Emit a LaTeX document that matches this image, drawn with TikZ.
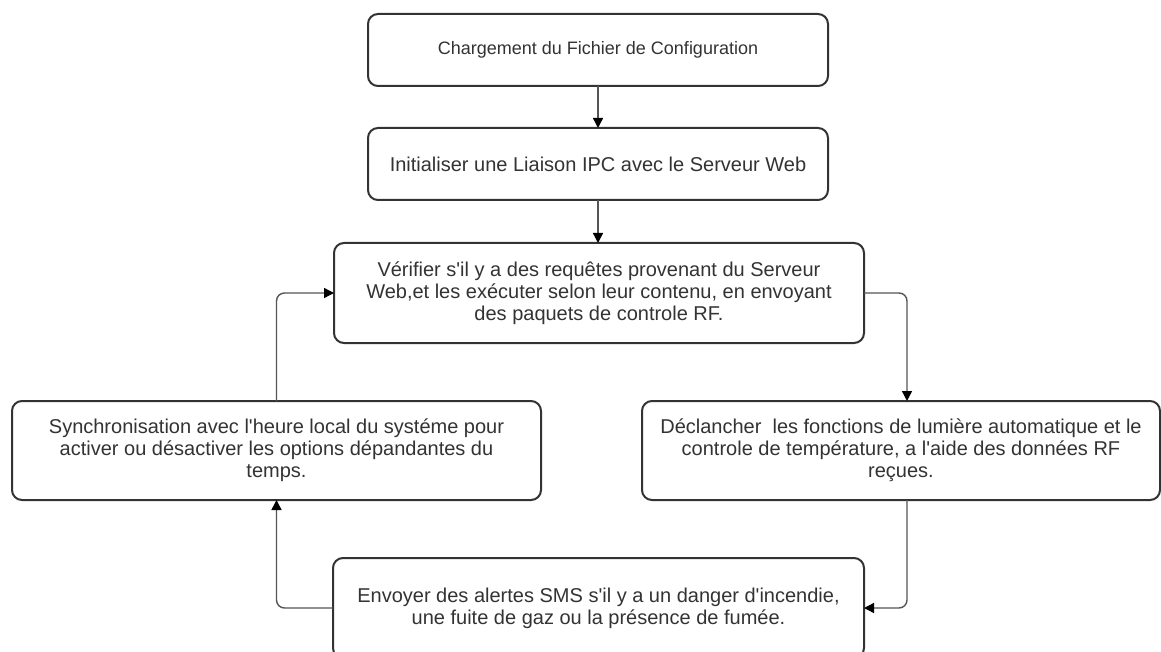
\documentclass[tikz,border=0pt]{standalone}
\usepackage{fontspec}
\setmainfont{Liberation Sans}[Ligatures=TeXOff]
\usetikzlibrary{arrows.meta}
\definecolor{boxline}{HTML}{333333}
\definecolor{txt}{HTML}{333333}
\definecolor{wire}{HTML}{555555}
\begin{document}
\begin{tikzpicture}[x=1pt,y=-1pt,
  stepbox/.style={draw=boxline, line width=2pt, rounded corners=10pt, fill=white,
    text=txt, align=center, inner sep=0pt, outer sep=0pt,
    font=\fontsize{20}{21.8}\selectfont},
  flow/.style={draw=wire, line width=1.4pt, rounded corners=8pt,
    -{Triangle[length=10pt,width=10pt,color=black]}}]
\useasboundingbox (0,0) rectangle (1161,652);
\clip (0,0) rectangle (1161,652);
\fill[white] (0,0) rectangle (1161,652);

% process steps
\node[stepbox, minimum width=460pt, minimum height=72pt, font=\fontsize{18}{21}\selectfont]
  (b1) at (598,50) {Chargement du Fichier de Configuration};
\node[stepbox, minimum width=460pt, minimum height=72pt]
  (b2) at (598,164) {Initialiser une Liaison IPC avec le Serveur Web};
\node[stepbox, minimum width=530pt, minimum height=100pt]
  (b3) at (599,293) {Vérifier s'il y a des requêtes provenant du Serveur\\Web,et les exécuter selon leur contenu, en envoyant\\des paquets de controle RF.};
\node[stepbox, minimum width=529pt, minimum height=99pt]
  (b4) at (276.5,450.5) {Synchronisation avec l'heure local du systéme pour\\activer ou désactiver les options dépandantes du\\temps.};
\node[stepbox, minimum width=518pt, minimum height=99pt]
  (b6) at (901,450.5) {Déclancher\ \ les fonctions de lumière automatique et le\\controle de température, a l'aide des données RF\\reçues.};
\node[stepbox, minimum width=531pt, minimum height=100pt]
  (b5) at (598.5,608) {Envoyer des alertes SMS s'il y a un danger d'incendie,\\une fuite de gaz ou la présence de fumée.};

% connectors
\coordinate (rx) at (907,0);
\draw[flow] (b1.south) -- (b2.north);
\draw[flow] (b2.south) -- (b2.south |- b3.north);
\draw[flow] (b3.east) -| (rx |- b6.north);
\draw[flow] (rx |- b6.south) |- (b5.east);
\draw[flow] (b5.west) -| (b4.south);
\draw[flow] (b4.north) |- (b3.west);
\end{tikzpicture}
\end{document}
